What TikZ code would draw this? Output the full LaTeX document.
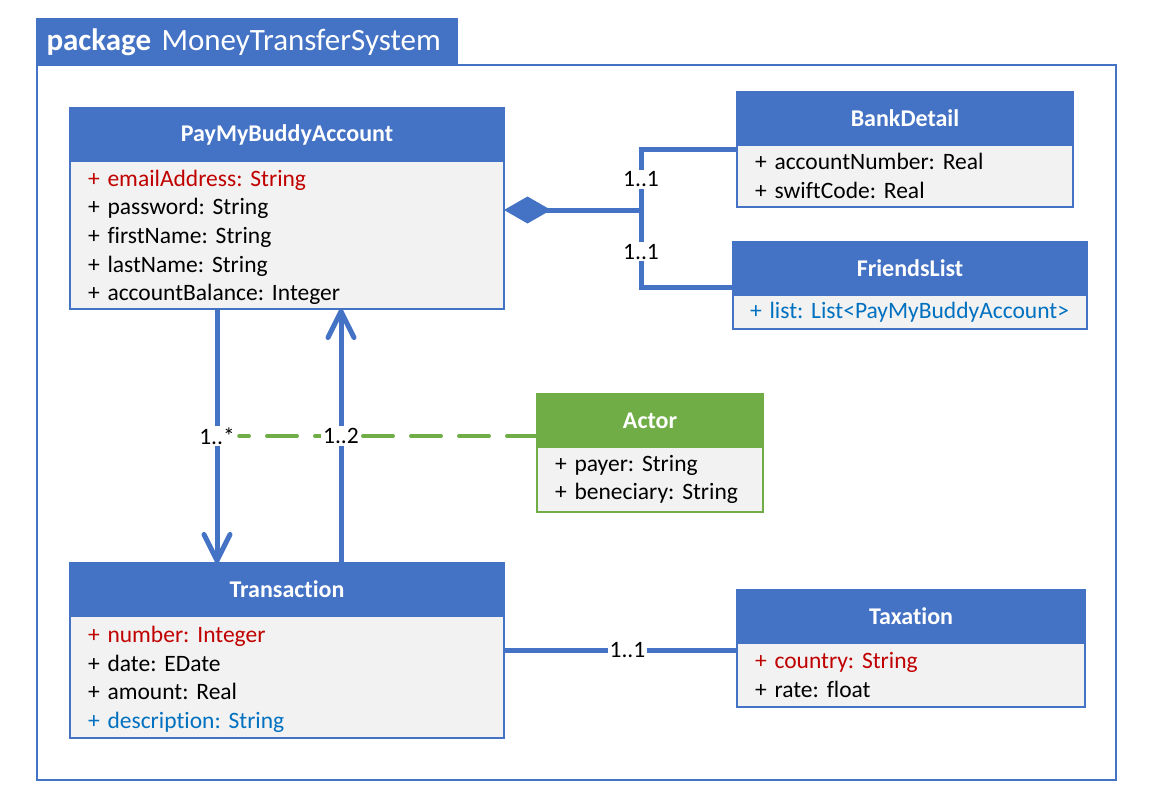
\documentclass[tikz,border=0pt]{standalone}
\usepackage{fontspec}
\setmainfont{Carlito}[Ligatures=NoCommon]
\usepackage{xcolor}
\usepackage{tikz}
\usetikzlibrary{positioning, arrows.meta, calc}

\definecolor{umlblue}{HTML}{4472C4}
\definecolor{umlgreen}{HTML}{70AD47}
\definecolor{umlgray}{HTML}{F2F2F2}
\definecolor{keyred}{HTML}{C00000}
\definecolor{optblue}{HTML}{0070C0}

\begin{document}
\frenchspacing
\begin{tikzpicture}[ x = 1pt, y = -1pt
                     , font = \fontsize{23.5pt}{28.7pt}\selectfont
                     , line width = 2pt
                     , >={Straight Barb[length=26pt, width=26pt, round]}
                     , classhead/.style = { rectangle
                                          , draw = umlblue
                                          , fill = umlblue
                                          , text = white
                                          , font = \fontsize{24pt}{28.7pt}\selectfont\bfseries
                                          , anchor = north west
                                          , outer sep = 0pt
                                          , minimum height = 53pt }
                     , classbody/.style = { rectangle
                                          , draw = umlblue
                                          , fill = umlgray
                                          , align = left
                                          , inner xsep = 18pt
                                          , inner ysep = 0pt
                                          , outer sep = 0pt }
                     , link/.style = { draw = umlblue, line width = 5pt }
                     , mult/.style = { fill = white, inner sep = 2pt, text = black }
                     ]

  \useasboundingbox (0,0) rectangle (1150,800);

  \node (pkg) [ draw = umlblue, fill = umlblue, text = white, anchor = north west
              , minimum width = 420pt, minimum height = 46pt, text width = 401pt
              , align = left, inner xsep = 9.5pt, outer sep = 0pt
              , font = \fontsize{31pt}{34pt}\selectfont ]
    at (37,19) {\textbf{package} MoneyTransferSystem};
  \node (frame) [ draw = umlblue, line width = 2.5pt, anchor = north west, outer sep = 0pt
                , minimum width = 1079pt, minimum height = 715pt ] at (37,65) {};

  \node (acct) [classhead, minimum width = 434pt] at (70,108) {PayMyBuddyAccount};
  \node (acctbody) [classbody, below = 0pt of acct, text width = 398pt, minimum height = 148pt]
    {\rule{0pt}{21pt}{\color{keyred}+ emailAddress: String}\\ + password: String\\ + firstName: String\\
     + lastName: String\\ + accountBalance: Integer};

  \node (bank) [classhead, minimum width = 336pt] at (737,92) {BankDetail};
  \node (bankbody) [classbody, below = 0pt of bank, text width = 300pt, minimum height = 62pt]
    {+ accountNumber: Real\\ + swiftCode: Real};

  \node (friends) [classhead, minimum width = 354pt] at (733,242) {FriendsList};
  \node (friendsbody) [classbody, below = 0pt of friends, inner xsep = 17pt, text width = 320pt, minimum height = 34pt]
    {\color{optblue}+ list: List<PayMyBuddyAccount>};

  \node (actor) [classhead, draw = umlgreen, fill = umlgreen, minimum width = 226pt] at (537,394) {Actor};
  \node (actorbody) [classbody, draw = umlgreen, below = 0pt of actor, text width = 190pt, minimum height = 65pt]
    {+ payer: String\\ + beneciary: String};

  \node (trans) [classhead, minimum width = 434pt] at (70,563) {Transaction};
  \node (transbody) [classbody, below = 0pt of trans, text width = 398pt, minimum height = 122pt]
    {\rule{0pt}{21pt}{\color{keyred}+ number: Integer}\\ + date: EDate\\ + amount: Real\\
     {\color{optblue}+ description: String}};

  \node (tax) [classhead, minimum width = 348pt] at (737,590) {Taxation};
  \node (taxbody) [classbody, below = 0pt of tax, text width = 312pt, minimum height = 64pt]
    {{\color{keyred}+ country: String}\\ + rate: float};

  % composition to the account's parts
  \coordinate (fork) at (641,210);
  \draw[link, {Diamond[length=47pt, width=27pt]}-] (acctbody.east |- fork) -- (fork);
  \draw[link] (fork) |- ([yshift=-4pt]bankbody.north west) node [mult, pos=0.25] {1..1};
  \draw[link] (fork) |- ([yshift=8pt]friends.south west) node [mult, pos=0.27] {1..1};

  \draw[link, ->] ([xshift=147pt]acctbody.south west) -- ([xshift=147pt]trans.north west)
    node [mult, pos=0.5] (mstar) {1..*};

  \draw[umlgreen, line width = 4pt, dash pattern = on 30pt off 18pt, line cap = round]
    (actor.west |- mstar) -- (mstar.east);

  \draw[link, ->] ([xshift=271pt]trans.north west) -- ([xshift=271pt]acctbody.south west)
    node [mult, pos=0.5] {1..2};

  \coordinate (taxin) at ([yshift=-7pt]taxbody.north west);
  \draw[link] (transbody.east |- taxin) -- (taxin) node [mult, pos=0.53] {1..1};

\end{tikzpicture}
\end{document}
